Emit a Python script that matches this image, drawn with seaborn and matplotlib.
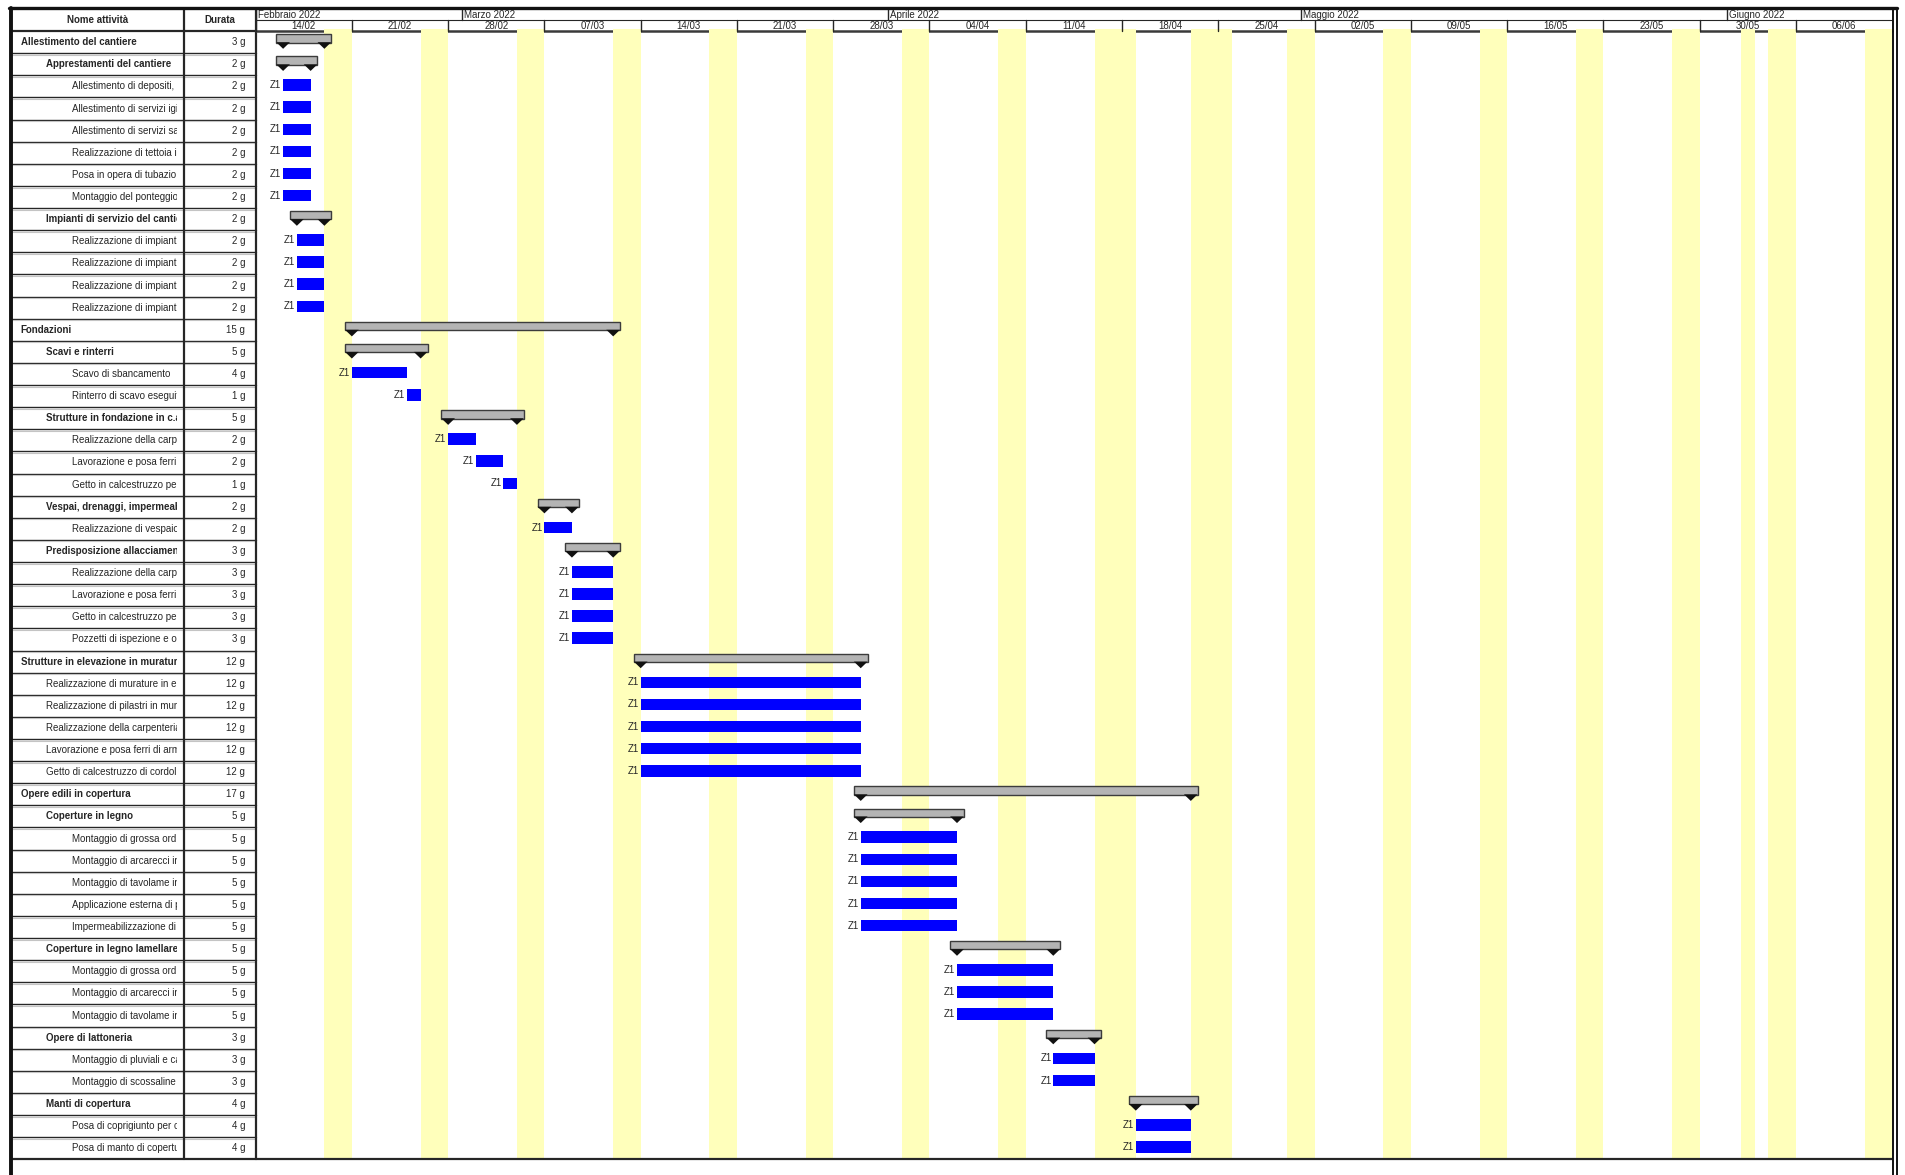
import numpy as np
import pandas as pd
import seaborn as sns
import matplotlib.pyplot as plt
import matplotlib.dates as mdates
from matplotlib.lines import Line2D
from matplotlib.transforms import Bbox, TransformedBbox

sns.set_style("white")
plt.rcParams['font.family'] = ['Liberation Sans', 'DejaVu Sans']

# ---- data ----
names = [
    "Allestimento del cantiere", "Apprestamenti del cantiere",
    "Allestimento di depositi,", "Allestimento di servizi igi", "Allestimento di servizi sa",
    "Realizzazione di tettoia i", "Posa in opera di tubazio", "Montaggio del ponteggio",
    "Impianti di servizio del cantiere",
    "Realizzazione di impiant", "Realizzazione di impiant", "Realizzazione di impiant",
    "Realizzazione di impiant",
    "Fondazioni", "Scavi e rinterri", "Scavo di sbancamento", "Rinterro di scavo eseguito",
    "Strutture in fondazione in c.a", "Realizzazione della carp", "Lavorazione e posa ferri",
    "Getto in calcestruzzo pe", "Vespai, drenaggi, impermeab", "Realizzazione di vespaio",
    "Predisposizione allacciamen", "Realizzazione della carp", "Lavorazione e posa ferri",
    "Getto in calcestruzzo pe", "Pozzetti di ispezione e o",
    "Strutture in elevazione in muratura", "Realizzazione di murature in e",
    "Realizzazione di pilastri in mur", "Realizzazione della carpenteria",
    "Lavorazione e posa ferri di arm", "Getto di calcestruzzo di cordol",
    "Opere edili in copertura", "Coperture in legno", "Montaggio di grossa ord",
    "Montaggio di arcarecci in", "Montaggio di tavolame in", "Applicazione esterna di p",
    "Impermeabilizzazione di", "Coperture in legno lamellare", "Montaggio di grossa ord",
    "Montaggio di arcarecci in", "Montaggio di tavolame in", "Opere di lattoneria",
    "Montaggio di pluviali e ca", "Montaggio di scossaline", "Manti di copertura",
    "Posa di coprigiunto per c", "Posa di manto di copertu",
]
levels = [0, 1, 2, 2, 2, 2, 2, 2, 1, 2, 2, 2, 2,
          0, 1, 2, 2, 1, 2, 2, 2, 1, 2, 1, 2, 2, 2, 2,
          0, 1, 1, 1, 1, 1,
          0, 1, 2, 2, 2, 2, 2, 1, 2, 2, 2, 1, 2, 2, 1, 2, 2]
durations = [3, 2, 2, 2, 2, 2, 2, 2, 2, 2, 2, 2, 2,
             15, 5, 4, 1, 5, 2, 2, 1, 2, 2, 3, 3, 3, 3, 3,
             12, 12, 12, 12, 12, 12,
             17, 5, 5, 5, 5, 5, 5, 5, 5, 5, 5, 3, 3, 3, 4, 4, 4]
starts = ["16/02/2022", "16/02/2022"] + ["16/02/2022"] * 6 + ["17/02/2022"] * 5 + \
         ["21/02/2022", "21/02/2022", "21/02/2022", "25/02/2022",
          "28/02/2022", "28/02/2022", "02/03/2022", "04/03/2022",
          "07/03/2022", "07/03/2022"] + ["09/03/2022"] * 5 + \
         ["14/03/2022"] * 6 + \
         ["30/03/2022"] * 7 + ["06/04/2022"] * 4 + ["13/04/2022"] * 3 + ["19/04/2022"] * 3
finishes = ["18/02/2022", "17/02/2022"] + ["17/02/2022"] * 6 + ["18/02/2022"] * 5 + \
           ["11/03/2022", "25/02/2022", "24/02/2022", "25/02/2022",
            "04/03/2022", "01/03/2022", "03/03/2022", "04/03/2022",
            "08/03/2022", "08/03/2022"] + ["11/03/2022"] * 5 + \
           ["29/03/2022"] * 6 + \
           ["22/04/2022"] + ["05/04/2022"] * 6 + ["12/04/2022"] * 4 + \
           ["15/04/2022"] * 3 + ["22/04/2022"] * 3
resource = "Z1"
holidays = ["2022-04-18", "2022-04-25", "2022-06-02"]
month_names = ["Gennaio", "Febbraio", "Marzo", "Aprile", "Maggio", "Giugno"]
view_start, view_end = "2022-02-14", "2022-06-13"

n = len(names)
df = pd.DataFrame({"name": names, "level": levels, "dur": durations,
                   "start": pd.to_datetime(starts, dayfirst=True),
                   "finish": pd.to_datetime(finishes, dayfirst=True)})
df["row"] = np.arange(n)
df["summary"] = [i + 1 < n and levels[i + 1] > levels[i] for i in range(n)]
df["x0"] = mdates.date2num(df["start"])
df["x1"] = mdates.date2num(df["finish"] + pd.Timedelta(days=1))

# ---- layout (pixels of the 1905x1175 picture) ----
W, H = 1905, 1175
fx = lambda p: p / W
fy = lambda p: 1 - p / H
TOP, BOT = 9, 1159.3
XL, XN, XT, XR = 12, 184, 255.6, 1892.2

fig = plt.figure(figsize=(19.05, 11.75), dpi=100)
ax_t = fig.add_axes([fx(XL), fy(BOT), fx(XT) - fx(XL), fy(TOP) - fy(BOT)])
ax_g = fig.add_axes([fx(XT), fy(BOT), fx(XR) - fx(XT), fy(TOP) - fy(BOT)])
for a in (ax_t, ax_g):
    a.set_ylim(n, -1)
    a.axis("off")
ax_t.set_xlim(XL, XT)
x_lo, x_hi = mdates.date2num(pd.Timestamp(view_start)), mdates.date2num(pd.Timestamp(view_end))
ax_g.set_xlim(x_lo, x_hi)

FS = 7.0
dark = "#262626"

# ---- table ----
clip = TransformedBbox(Bbox([[XL, -1], [177, n]]), ax_t.transData)
ax_t.text((XL + XN) / 2, -0.5, "Nome attività", ha="center", va="center", fontsize=FS, fontweight="bold")
ax_t.text((XN + XT) / 2, -0.5, "Durata", ha="center", va="center", fontsize=FS, fontweight="bold")
for _, r in df.iterrows():
    t = ax_t.text(20.7 + 25.6 * r.level, r.row + 0.5, r["name"], ha="left", va="center",
                  fontsize=FS, fontweight="bold" if r.summary else "normal")
    t.set_clip_box(clip)
    t.set_clip_on(True)
    ax_t.text(245, r.row + 0.5, f"{r.dur} g", ha="right", va="center", fontsize=FS)
for k in range(0, n + 1):
    ax_t.plot([XL, XT], [k, k], color=dark, lw=1.6 if k in (0, n) else 1.0, clip_on=False)
    if 0 < k < n:
        ax_t.plot([XL, XT], [k + 0.07, k + 0.07], color="#c4c4c4", lw=0.8, clip_on=False)
for xv in (XN, XT):
    ax_t.plot([xv, xv], [-1, n], color=dark, lw=1.6, clip_on=False)

# ---- non-working days ----
days = pd.date_range(view_start, view_end, freq="D", inclusive="left")
off = days[(days.dayofweek >= 5) | days.isin(pd.to_datetime(holidays))]
ax_g.bar(mdates.date2num(off), height=n + 0.08, bottom=-0.08, width=1, align="edge",
         color="#ffffbb", linewidth=0, zorder=1)

# ---- timescale header ----
ax_g.plot([x_lo, x_hi], [-0.5, -0.5], color=dark, lw=0.8, clip_on=False, zorder=0)
ax_g.plot([x_lo, x_hi], [0, 0], color="#3a3a3a", lw=1.8, clip_on=False, zorder=0)
ax_g.plot([x_lo, x_hi], [n, n], color=dark, lw=1.6, clip_on=False)
months = pd.date_range(view_start, view_end, freq="MS")
m_marks = [pd.Timestamp(view_start)] + list(months)
for m in m_marks:
    xm = mdates.date2num(m)
    ax_g.plot([xm, xm], [-1, -0.5], color=dark, lw=1.0, clip_on=False)
    ax_g.text(xm + 0.15, -0.74, f"{month_names[m.month - 1]} {m.year}", ha="left", va="center",
              fontsize=FS)
for w in pd.date_range(view_start, view_end, freq="W-MON", inclusive="left"):
    xw = mdates.date2num(w)
    ax_g.plot([xw, xw], [-0.5, 0], color=dark, lw=1.0, clip_on=False)
    ax_g.text(xw + 3.5, -0.24, w.strftime("%d/%m"), ha="center", va="center", fontsize=FS)

# ---- bars ----
tasks = df[~df.summary]
ax_g.barh(tasks.row + 0.44, tasks.x1 - tasks.x0, left=tasks.x0, height=0.52,
          color="#0000ff", linewidth=0, zorder=3)
for _, r in tasks.iterrows():
    ax_g.text(r.x0 - 0.12, r.row + 0.44, resource, ha="right", va="center", fontsize=FS, zorder=4)

summ = df[df.summary]
ax_g.barh(summ.row + 0.33, summ.x1 - summ.x0 + 1.0, left=summ.x0 - 0.5, height=0.37,
          color="#b4b4b4", edgecolor="#3c3c3c", linewidth=1.0, zorder=3)
for _, r in summ.iterrows():
    for xe in (r.x0, r.x1):
        ax_g.fill([xe - 0.5, xe + 0.5, xe], [r.row + 0.5, r.row + 0.5, r.row + 0.8],
                  color="#111111", linewidth=0, zorder=4)

# ---- outer frame ----
fig.add_artist(Line2D([fx(9), fx(1897)], [fy(8), fy(8)], color="#111111", lw=2.4))
fig.add_artist(Line2D([fx(10.5), fx(10.5)], [fy(8), 0], color="#111111", lw=2.8))
fig.add_artist(Line2D([fx(1893), fx(1893)], [fy(8), 0], color="#111111", lw=1.4))
fig.add_artist(Line2D([fx(1897), fx(1897)], [fy(8), 0], color="#111111", lw=1.4))

plt.savefig("out.png", dpi=100)
